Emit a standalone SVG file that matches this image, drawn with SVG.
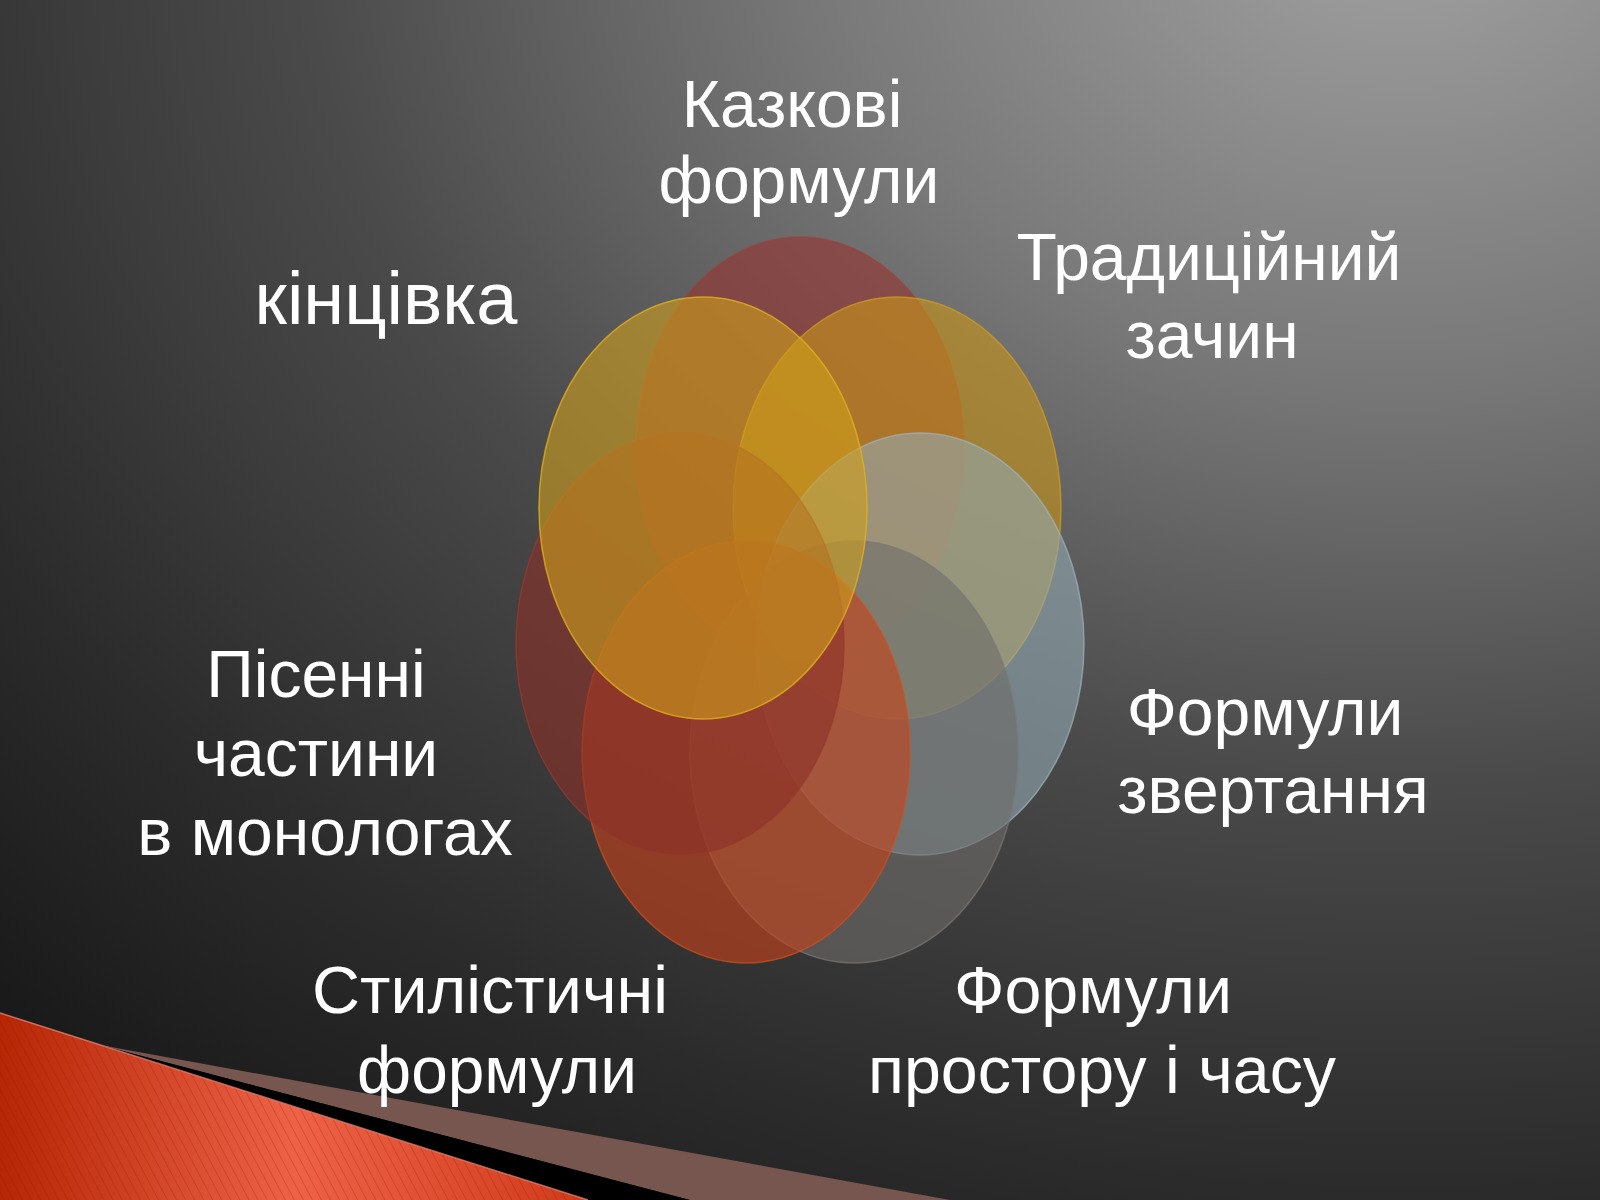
<svg xmlns="http://www.w3.org/2000/svg" width="1600" height="1200" viewBox="0 0 1600 1200">
<defs>
<radialGradient id="bg" gradientUnits="userSpaceOnUse" cx="0" cy="0" r="1600" gradientTransform="translate(1400,-100) scale(1.25,1)">
<stop offset="0" stop-color="#a2a2a2"/>
<stop offset="0.3" stop-color="#787878"/>
<stop offset="0.55" stop-color="#4a4a4a"/>
<stop offset="0.8" stop-color="#2c2c2c"/>
<stop offset="1" stop-color="#181818"/>
</radialGradient>
<linearGradient id="redg" gradientUnits="userSpaceOnUse" x1="0" y1="1150" x2="590" y2="1150">
<stop offset="0" stop-color="#b52605"/>
<stop offset="0.5" stop-color="#ee6248"/>
<stop offset="1" stop-color="#d03a1a"/>
</linearGradient>
<pattern id="stripes" patternUnits="userSpaceOnUse" width="8" height="8" patternTransform="rotate(-28)">
<line x1="0" y1="0" x2="0" y2="8" stroke="#8a1800" stroke-width="1.4" stroke-opacity="0.35"/>
</pattern>
<style>
.lbl{font-family:"Liberation Sans",Arial,sans-serif;font-size:66px;fill:#ffffff;text-anchor:middle}
.big{font-size:74px}
.c{stroke-width:1.5}
</style>
</defs>
<rect x="0" y="0" width="1600" height="1200" fill="url(#bg)"/>
<g id="decor">
<polygon points="0,1013 588,1200 0,1200" fill="url(#redg)"/>
<polygon points="0,1013 588,1200 0,1200" fill="url(#stripes)"/>
<polygon points="100,1045 950,1200 690,1200" fill="#785650"/>
<polygon points="100,1045 690,1200 588,1200" fill="#000000"/>
<line x1="0" y1="1013" x2="588" y2="1200" stroke="#f09080" stroke-width="1.5" stroke-opacity="0.7"/>
</g>
<g id="circles">
<g id="node-kazkovi"><ellipse class="c" cx="800" cy="448" rx="164" ry="211" fill="#983630" fill-opacity="0.6" stroke="#a04038" stroke-opacity="0.6"/></g>
<g id="node-zachyn"><ellipse class="c" cx="897" cy="508" rx="164" ry="211" fill="#c99518" fill-opacity="0.6" stroke="#d0a020" stroke-opacity="0.7"/></g>
<g id="node-zvertannia"><ellipse class="c" cx="920" cy="644" rx="164" ry="211" fill="#93a8b1" fill-opacity="0.6" stroke="#a0b4bc" stroke-opacity="0.7"/></g>
<g id="node-prostoru"><ellipse class="c" cx="854" cy="752" rx="164" ry="211" fill="#6e6c69" fill-opacity="0.6" stroke="#7a7876" stroke-opacity="0.7"/></g>
<g id="node-stylistychni"><ellipse class="c" cx="746" cy="752" rx="164" ry="211" fill="#c5421a" fill-opacity="0.62" stroke="#d05020" stroke-opacity="0.7"/></g>
<g id="node-pisenni"><ellipse class="c" cx="680" cy="644" rx="164" ry="211" fill="#8c3028" fill-opacity="0.6" stroke="#983830" stroke-opacity="0.7"/></g>
<g id="node-kintsivka"><ellipse class="c" cx="703" cy="508" rx="164" ry="211" fill="#cf9e1a" fill-opacity="0.6" stroke="#e0b020" stroke-opacity="0.8"/></g>
</g>
<g id="connectors"></g>
<g id="labels">
<text class="lbl" x="792" y="127">Казкові</text>
<text class="lbl" x="799" y="203">формули</text>
<text class="lbl" x="1209" y="280">Традиційний</text>
<text class="lbl" x="1212" y="358">зачин</text>
<text class="lbl big" x="386" y="324">кінцівка</text>
<text class="lbl" x="1265" y="735">Формули</text>
<text class="lbl" x="1273" y="813">звертання</text>
<text class="lbl" x="316" y="697">Пісенні</text>
<text class="lbl" x="316" y="776">частини</text>
<text class="lbl" x="325" y="855">в монологах</text>
<text class="lbl" x="490" y="1013" textLength="356" lengthAdjust="spacingAndGlyphs">Стилістичні</text>
<text class="lbl" x="497" y="1093" textLength="280" lengthAdjust="spacingAndGlyphs">формули</text>
<text class="lbl" x="1093" y="1013" textLength="278" lengthAdjust="spacingAndGlyphs">Формули</text>
<text class="lbl" x="1102" y="1093" textLength="468" lengthAdjust="spacingAndGlyphs">простору і часу</text>
</g>
</svg>
